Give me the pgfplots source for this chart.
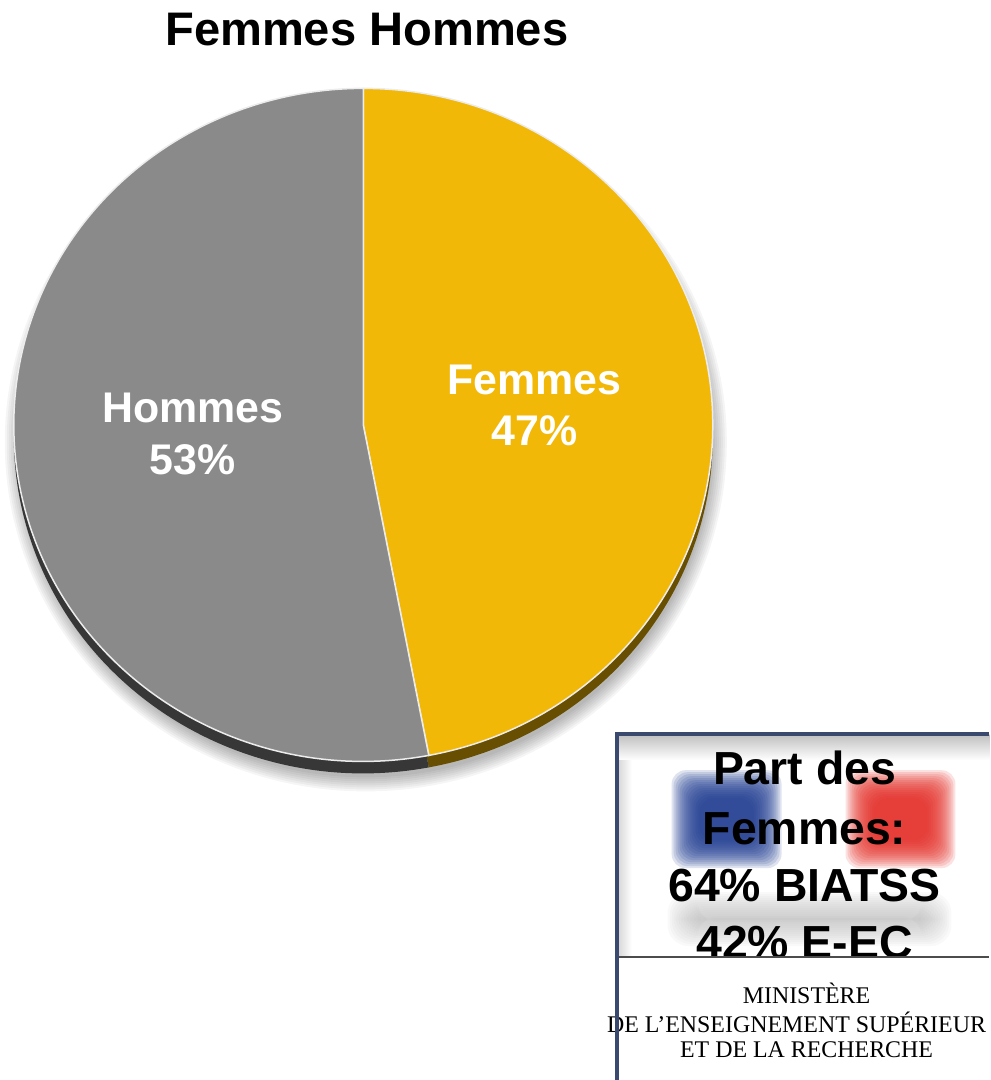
\documentclass[border=0pt]{standalone}
\usepackage{fontspec}
\setmainfont{Liberation Sans}
\newfontfamily\minfont{Liberation Serif}
\usepackage{xcolor}
\usepackage{pgfplots}
\usepackage{pgfplotstable}
\pgfplotsset{compat=1.18}
\definecolor{femmes}{RGB}{242,184,8}
\definecolor{hommes}{RGB}{138,138,138}
\definecolor{femmesside}{RGB}{104,78,0}
\definecolor{hommesside}{RGB}{55,55,55}
\definecolor{frameblue}{RGB}{58,74,110}
\definecolor{flagblue}{RGB}{30,58,145}
\definecolor{flagred}{RGB}{230,45,38}

\pgfplotstableread{
label value
Femmes 47
Hommes 53
}\piedata

% one slice of the (slightly flattened) pie, centre y given in axis units
\newcommand{\pieslice}[4]{%
  \fill[#1] (axis cs:363.5,#4) -- ++({3.495cm*cos(#2)},{3.365cm*sin(#2)})
    arc[start angle=#2, end angle=#3, x radius=3.495cm, y radius=3.365cm] -- cycle;}
\newcommand{\pietop}[3]{%
  \filldraw[fill=#1, draw=white!85!gray, line width=0.015cm] (axis cs:363.5,655.5)
    -- ++({3.495cm*cos(#2)},{3.365cm*sin(#2)})
    arc[start angle=#2, end angle=#3, x radius=3.495cm, y radius=3.365cm] -- cycle;}

\begin{document}
\begin{tikzpicture}
\useasboundingbox (0,0) rectangle (9.9cm,10.8cm);

\pgfplotstablegetelem{0}{value}\of\piedata \let\vF\pgfplotsretval
\pgfplotstablegetelem{1}{value}\of\piedata \let\vH\pgfplotsretval
\pgfmathsetmacro\total{\vF+\vH}
\pgfmathsetmacro\aF{90-360*(\vF/\total)}
\pgfmathsetmacro\aH{\aF-360*(\vH/\total)}

\begin{axis}[
    at={(0,0)}, anchor=south west,
    x=0.01cm, y=0.01cm,
    xmin=0, xmax=990, ymin=0, ymax=1080,
    hide axis, clip=false,
]
% soft shadow under the pie
\pgfplotsinvokeforeach{1,...,8}{
  \fill[black, opacity=0.04] (axis cs:366,638) ellipse[x radius={3.45cm+#1*0.02cm}, y radius={3.33cm+#1*0.02cm}];
}
% side of the pie
\pieslice{femmesside}{90}{\aF}{643.5}
\pieslice{hommesside}{\aF}{\aH}{643.5}
% top face
\pietop{femmes}{90}{\aF}
\pietop{hommes}{\aF}{\aH}

\node[anchor=base, inner sep=0, text=white, font=\fontsize{12.2pt}{12.2pt}\selectfont\bfseries] at (axis cs:535,686) {Femmes};
\node[anchor=base, inner sep=0, text=white, font=\fontsize{12.2pt}{12.2pt}\selectfont\bfseries] at (axis cs:535,635) {\vF\%};
\node[anchor=base, inner sep=0, text=white, font=\fontsize{12.2pt}{12.2pt}\selectfont\bfseries] at (axis cs:193,658) {Hommes};
\node[anchor=base, inner sep=0, text=white, font=\fontsize{12.2pt}{12.2pt}\selectfont\bfseries] at (axis cs:193,606) {\vH\%};

\node[anchor=base, inner sep=0, font=\fontsize{13.4pt}{13.4pt}\selectfont\bfseries] at (axis cs:367,1035) {Femmes Hommes};
\end{axis}

% ministry logo box, bottom right (1 unit = 1 px of the reference)
\begin{scope}[x=0.01cm, y=0.01cm]
  \fill[white] (619,123) rectangle (990,346);
  \shade[top color=gray!50, bottom color=white] (619,346) rectangle (990,320);
  \shade[left color=gray!30, right color=white] (619,123) rectangle (632,320);
  % blurred flag and its shadow
  \foreach \e in {-14,-12,...,16} {
    \fill[gray!50, opacity=0.08, rounded corners=6] (684-\e,150-\e) rectangle (936+\e,172+\e);
  }
  \foreach \e in {-14,-12,...,14} {
    \fill[flagblue, opacity=0.14, rounded corners=4] (686-\e,226-\e) rectangle (768+\e,296+\e);
    \fill[flagred, opacity=0.14, rounded corners=4] (860-\e,226-\e) rectangle (942+\e,296+\e);
  }
  % text
  \begin{scope}[every node/.style={anchor=base, inner sep=0, font=\fontsize{13.2pt}{13.2pt}\selectfont\bfseries}]
    \node at (805,296) {Part des};
    \node at (805,236) {Femmes:};
    \node at (805,179) {64\% BIATSS};
    \node at (805,122) {42\% E-EC};
  \end{scope}
  \fill[white] (619,0) rectangle (990,122.5);
  \draw[gray!60!black, line width=0.02cm] (619,123) -- (990,123);
  \begin{scope}[every node/.style={anchor=base, inner sep=0, text=black, font=\minfont\fontsize{6.8pt}{6.8pt}\selectfont}]
    \node at (807,77) {MINISTÈRE};
    \node at (797,48) {DE L’ENSEIGNEMENT SUPÉRIEUR};
    \node at (807,23) {ET DE LA RECHERCHE};
  \end{scope}
  % frame
  \draw[frameblue, line width=0.04cm] (617,0) -- (617,346.5) -- (990,346.5);
\end{scope}
\end{tikzpicture}
\end{document}
